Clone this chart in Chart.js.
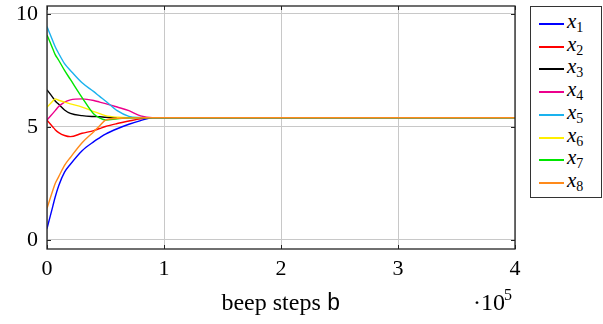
<!DOCTYPE html>
<html>
<head>
<meta charset="utf-8">
<script src="https://cdn.jsdelivr.net/npm/chart.js@4/dist/chart.umd.min.js"></script>
<style>
  html, body { margin: 0; padding: 0; background: #fff; }
  #wrap { position: relative; width: 603px; height: 324px; }
  #legend {
    position: absolute; left: 530px; top: 6px; width: 72px; height: 192px;
    border: 1px solid #333; box-sizing: border-box; background: #fff;
    font-family: "Liberation Serif", "DejaVu Serif", serif; font-size: 21px;
  }
  .item { position: absolute; left: 0; height: 22px; width: 70px; }
  .item .sw { position: absolute; left: 8px; top: 11px; width: 25px; height: 2px; }
  .item .lab { position: absolute; left: 36px; top: -2px; font-style: italic; line-height: 22px; }
  .item sub { font-style: normal; font-size: 14px; vertical-align: -4px; }
</style>
</head>
<body>
<div id="wrap">
  <canvas id="c" width="603" height="324"></canvas>
  <div id="legend"></div>
</div>
<script>
// beep steps (x axis), shared by every series
const steps = [0, 5000, 7000, 10000, 15000, 20000, 30000, 40000, 45000,
               50000, 60000, 70000, 80000, 90000, 400000];

const x1 = [0.5, 1.5, 1.9, 2.4, 3.0, 3.35, 3.95, 4.35, 4.52, 4.68, 4.92, 5.12, 5.28, 5.4, 5.41];
const x2 = [5.3, 5.0, 4.88, 4.75, 4.62, 4.57, 4.72, 4.84, 4.93, 5.02, 5.15, 5.26, 5.36, 5.41, 5.41];
const x3 = [6.64, 6.3, 6.15, 6.0, 5.75, 5.6, 5.5, 5.46, 5.45, 5.43, 5.41, 5.41, 5.41, 5.41, 5.41];
const x4 = [5.3, 5.6, 5.72, 5.9, 6.1, 6.2, 6.24, 6.17, 6.1, 6.03, 5.88, 5.72, 5.49, 5.41, 5.41];
const x5 = [9.44, 8.8, 8.55, 8.25, 7.8, 7.5, 6.95, 6.56, 6.35, 6.15, 5.72, 5.47, 5.42, 5.41, 5.41];
const x6 = [5.87, 6.15, 6.24, 6.18, 6.1, 6.02, 5.88, 5.68, 5.59, 5.5, 5.43, 5.41, 5.41, 5.41, 5.41];
const x7 = [9.07, 8.45, 8.2, 7.95, 7.5, 7.1, 6.3, 5.57, 5.4, 5.31, 5.36, 5.4, 5.41, 5.41, 5.41];
const x8 = [1.4, 2.2, 2.5, 2.8, 3.3, 3.65, 4.3, 4.79, 5.05, 5.3, 5.38, 5.4, 5.41, 5.41, 5.41];

const seriesNames = ["1", "2", "3", "4", "5", "6", "7", "8"];
const seriesValues = [x1, x2, x3, x4, x5, x6, x7, x8];
const colors = ["#0000ff", "#ff0000", "#000000", "#ec008c",
                "#1ab2ee", "#ffee00", "#00e600", "#ff8a1a"];

const yTicks = [0, 5, 10];
const xTicks = [0, 100000, 200000, 300000, 400000];

const serif = "'Liberation Serif', 'DejaVu Serif', serif";
const mono = "'Liberation Mono', 'DejaVu Sans Mono', monospace";

// legend as real text with subscripts
const legend = document.getElementById("legend");
seriesNames.forEach((n, i) => {
    const d = document.createElement("div");
    d.className = "item";
    d.style.top = Math.round(5 + i * 22.7) + "px";
    d.innerHTML = '<span class="sw" style="background:' + colors[i] + '"></span>' +
                  '<span class="lab">x<sub>' + n + '</sub></span>';
    legend.appendChild(d);
});

// pgfplots-like frame, inner tick marks, axis label and exponent
const framePlugin = {
    id: "frame",
    afterDraw(chart) {
        const ctx = chart.ctx;
        const a = chart.chartArea;
        const xs = chart.scales.x, ys = chart.scales.y;
        ctx.save();
        ctx.strokeStyle = "#222";
        ctx.lineWidth = 1;
        ctx.beginPath();
        xTicks.forEach(t => {
            const px = Math.round(xs.getPixelForValue(t)) + 0.5;
            ctx.moveTo(px, a.bottom); ctx.lineTo(px, a.bottom - 4);
            ctx.moveTo(px, a.top); ctx.lineTo(px, a.top + 4);
        });
        yTicks.forEach(t => {
            const py = Math.round(ys.getPixelForValue(t)) + 0.5;
            ctx.moveTo(a.left, py); ctx.lineTo(a.left + 4, py);
            ctx.moveTo(a.right, py); ctx.lineTo(a.right - 4, py);
        });
        ctx.stroke();
        ctx.lineWidth = 1.3;
        ctx.strokeRect(a.left, a.top, a.right - a.left, a.bottom - a.top);

        ctx.fillStyle = "#000";
        ctx.textBaseline = "alphabetic";
        const t1 = "beep steps ";
        ctx.font = "24px " + serif;
        const w1 = ctx.measureText(t1).width;
        ctx.font = "23px " + mono;
        const w2 = ctx.measureText("b").width;
        const sx = 281 - (w1 + w2) / 2;
        ctx.font = "24px " + serif;
        ctx.fillText(t1, sx, 310);
        ctx.font = "23px " + mono;
        ctx.fillText("b", sx + w1, 310);

        ctx.font = "24px " + serif;
        ctx.fillText("\u00b710", 473, 310);
        ctx.font = "16px " + serif;
        ctx.fillText("5", 504, 300);
        ctx.restore();
    }
};

new Chart(document.getElementById("c"), {
    type: "line",
    data: {
        datasets: seriesValues.map((vals, i) => ({
            label: "x" + seriesNames[i],
            data: vals.map((v, j) => ({ x: steps[j], y: v })),
            borderColor: colors[i],
            borderWidth: 1.4,
            pointRadius: 0,
            cubicInterpolationMode: "monotone",
            order: seriesNames.length - i,
            fill: false
        }))
    },
    options: {
        responsive: false,
        animation: false,
        layout: { padding: { top: 6, right: 88, left: 0, bottom: 0 } },
        plugins: { legend: { display: false }, tooltip: { enabled: false } },
        scales: {
            x: {
                type: "linear",
                min: 0,
                max: 400000,
                afterBuildTicks: s => { s.ticks = xTicks.map(v => ({ value: v })); },
                afterFit: s => { s.height = 75; s.paddingLeft = 0; s.paddingRight = 0; },
                ticks: {
                    callback: v => String(v / 100000),
                    font: { family: serif, size: 22 },
                    color: "#000",
                    padding: 7,
                    maxRotation: 0
                },
                grid: { color: "#c8c8c8", drawTicks: false },
                border: { display: false }
            },
            y: {
                min: -0.4,
                max: 10.35,
                afterBuildTicks: s => { s.ticks = yTicks.map(v => ({ value: v })); },
                afterFit: s => { s.width = 47; s.paddingTop = 0; s.paddingBottom = 0; },
                ticks: {
                    font: { family: serif, size: 22 },
                    color: "#000",
                    padding: 9
                },
                grid: { color: "#c8c8c8", drawTicks: false },
                border: { display: false }
            }
        }
    },
    plugins: [framePlugin]
});
</script>
</body>
</html>
